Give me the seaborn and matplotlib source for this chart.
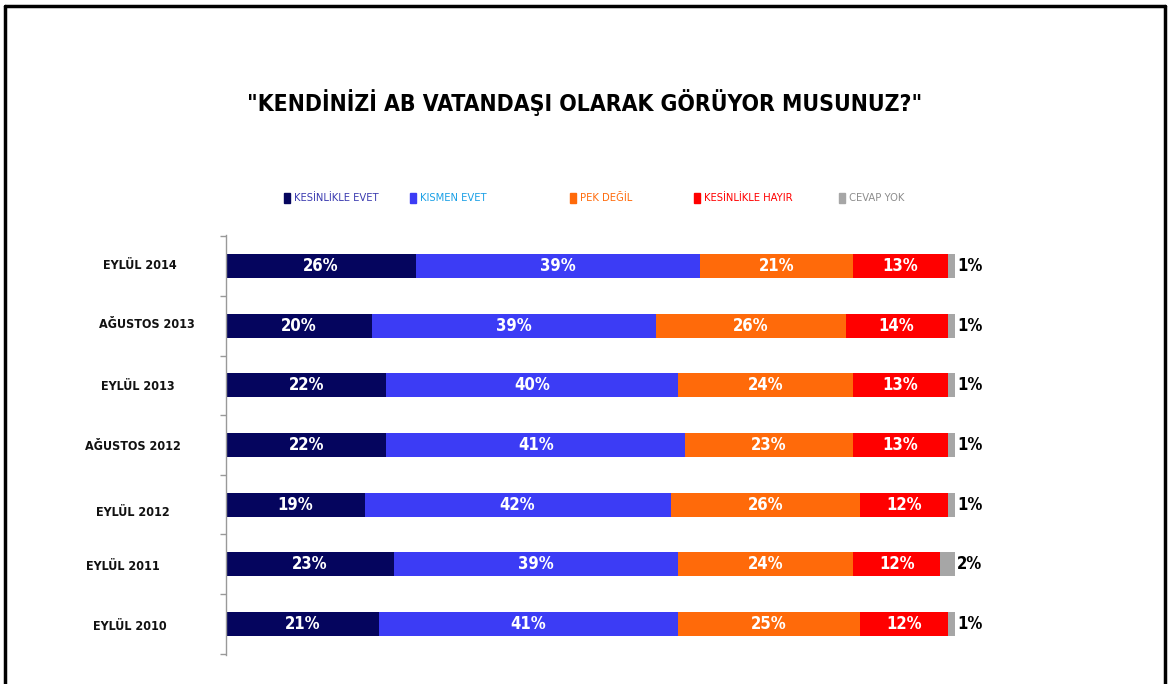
import numpy as np
import matplotlib
matplotlib.use("Agg")
import matplotlib.pyplot as plt
from matplotlib.patches import Rectangle
from matplotlib.lines import Line2D
import seaborn as sns

# Veriler
periods = ["EYLÜL 2014", "AĞUSTOS 2013", "EYLÜL 2013", "AĞUSTOS 2012",
           "EYLÜL 2012", "EYLÜL 2011", "EYLÜL 2010"]
series_names = ["KESİNLİKLE EVET", "KISMEN EVET", "PEK DEĞİL",
                "KESİNLİKLE HAYIR", "CEVAP YOK"]
kesinlikle_evet = [26, 20, 22, 22, 19, 23, 21]
kismen_evet = [39, 39, 40, 41, 42, 39, 41]
pek_degil = [21, 26, 24, 23, 26, 24, 25]
kesinlikle_hayir = [13, 14, 13, 13, 12, 12, 12]
cevap_yok = [1, 1, 1, 1, 1, 2, 1]

colors = ["#05055e", "#3c3cf5", "#ff6a0a", "#ff0000", "#a6a6a6"]
legend_text_colors = ["#3b3bb0", "#1aa0e6", "#ff6a0a", "#ff0000", "#8c8c8c"]

sns.set_style("white")
plt.rcParams["font.family"] = ["DejaVu Sans"]
plt.rcParams["font.stretch"] = "condensed"

W, H = 1171, 684
fig = plt.figure(figsize=(W / 100, H / 100), dpi=100)
ax = fig.add_axes([226 / W, 1 - 655 / H, (955 - 226) / W, 420 / H])

values = np.array([kesinlikle_evet, kismen_evet, pek_degil,
                   kesinlikle_hayir, cevap_yok])
cum = values.cumsum(axis=0)

# Yığılmış çubuklar: kümülatif toplamları sondan başa çiz
for i in range(len(series_names) - 1, -1, -1):
    sns.barplot(x=cum[i], y=periods, color=colors[i], orient="h",
                width=0.4, saturation=1, ax=ax, linewidth=0)

# Değer etiketleri
for r in range(len(periods)):
    for i in range(len(series_names)):
        v = values[i, r]
        if i < 4:
            mid = cum[i, r] - v / 2
            ax.text(mid, r, f"{v}%", color="white", fontsize=12,
                    fontweight="bold", ha="center", va="center")
        else:
            ax.text(cum[i, r] + 0.3, r, f"{v}%", color="black", fontsize=12,
                    fontweight="bold", ha="left", va="center", clip_on=False)

ax.set_xlim(0, 100)
ax.set_ylim(6.52, -0.52)
ax.set_xticks([])
ax.set_yticks(np.arange(-0.5, 7.0, 1.0))
ax.set_yticklabels([])
ax.tick_params(axis="y", length=4, color="#999999", width=1, left=True)
ax.set_xlabel("")
ax.set_ylabel("")
for s in ["top", "right", "bottom"]:
    ax.spines[s].set_visible(False)
ax.spines["left"].set_color("#999999")
ax.spines["left"].set_linewidth(1)

# Dönem etiketleri (orijinaldeki gibi biraz düzensiz yerleşim)
label_x = [140, 147, 138, 133, 133, 123, 130]
label_y = [266, 325, 387, 446, 512, 567, 626]
for r, p in enumerate(periods):
    fig.text(label_x[r] / W, 1 - label_y[r] / H, p, fontsize=9, fontweight="bold",
             ha="center", va="center", color="#111111")

# Başlık
fig.text(585 / W, 1 - 103 / H, '"KENDİNİZİ AB VATANDAŞI OLARAK GÖRÜYOR MUSUNUZ?"',
         fontsize=16.5, fontweight="bold", ha="center", va="center", color="black")

# Gösterge
marker_x = [287, 413, 573, 697, 842]
for i, name in enumerate(series_names):
    fig.patches.append(Rectangle(((marker_x[i] - 3) / W, 1 - 203 / H), 6 / W, 10 / H,
                                 transform=fig.transFigure, color=colors[i]))
    fig.text((marker_x[i] + 7) / W, 1 - 198 / H, name, fontsize=8,
             color=legend_text_colors[i], ha="left", va="center")

# Çerçeve
lw = 2.5
fig.lines.append(Line2D([5 / W, 5 / W], [0, 1 - 6 / H], transform=fig.transFigure,
                        color="black", linewidth=lw))
fig.lines.append(Line2D([1165 / W, 1165 / W], [0, 1 - 6 / H], transform=fig.transFigure,
                        color="black", linewidth=lw))
fig.lines.append(Line2D([5 / W, 1165 / W], [1 - 6 / H, 1 - 6 / H], transform=fig.transFigure,
                        color="black", linewidth=lw))

fig.savefig("out.png", dpi=100)
